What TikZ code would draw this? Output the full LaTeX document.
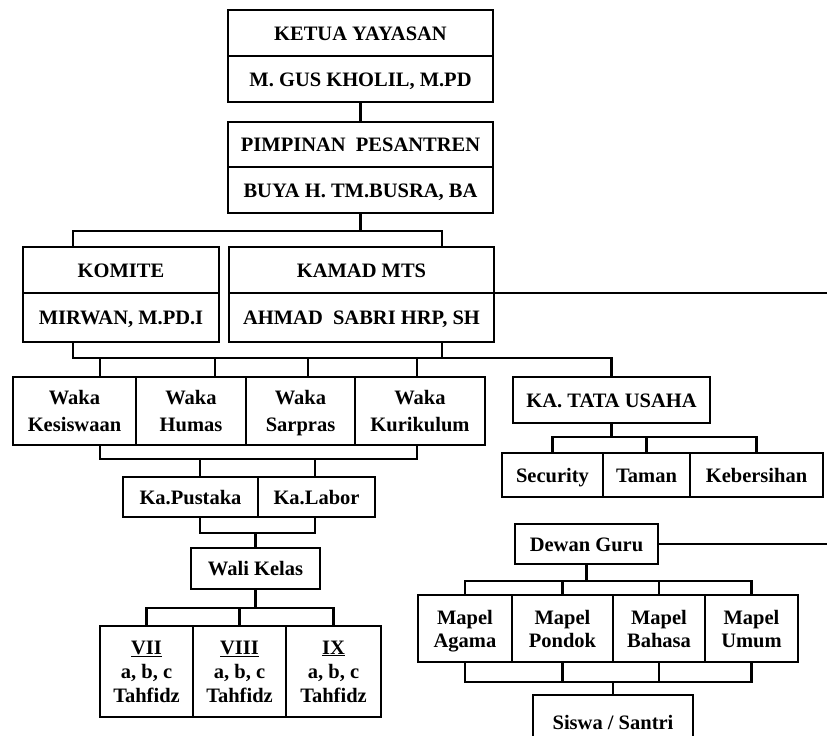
\documentclass[tikz,border=0pt]{standalone}
\usepackage{fontspec}
\setmainfont{Liberation Serif}

\begin{document}
\begin{tikzpicture}[x=1pt,y=-1pt,
	box/.style={draw,line width=2.6pt,outer sep=0pt,inner sep=0pt,align=center,
		font=\bfseries\fontsize{20.5}{25}\selectfont},
	box1/.style={box,text height=14pt,text depth=0pt},
	link/.style={line width=2.6pt}]

	\useasboundingbox (0,0) rectangle (827,736);
	\clip (0,0) rectangle (827,736);
	\coordinate (rim) at (827,0);

	% pimpinan
	\node[box1,minimum width=265pt,minimum height=46pt] (ketua) at (360.5,33) {KETUA YAYASAN};
	\node[box1,minimum width=265pt,minimum height=46pt] (gus) at (360.5,79) {M. GUS KHOLIL, M.PD};
	\node[box1,minimum width=265pt,minimum height=45pt] (pimpinan) at (360.5,144.5) {PIMPINAN\ \ PESANTREN};
	\node[box1,minimum width=265pt,minimum height=46pt] (buya) at (360.5,190) {BUYA H. TM.BUSRA, BA};

	\node[box1,minimum width=196pt,minimum height=46pt] (komite) at (121,270) {KOMITE};
	\node[box1,minimum width=196pt,minimum height=49pt] (mirwan) at (121,317.5) {MIRWAN, M.PD.I};
	\node[box1,minimum width=265pt,minimum height=46pt] (kamad) at (361.5,270) {KAMAD MTS};
	\node[box1,minimum width=265pt,minimum height=49pt] (ahmad) at (361.5,317.5) {AHMAD\ \ SABRI HRP, SH};

	% waka
	\foreach \name/\x/\w/\txt in {wk1/74.5/123/Kesiswaan, wk2/191/110/Humas, wk3/300.5/109/Sarpras, wk4/420/130/Kurikulum}
	{
		\node[box,minimum width=\w pt,minimum height=68pt,font=\bfseries\fontsize{20.5}{26.5}\selectfont] (\name) at (\x,411) {Waka\\\smash{\txt}};
	}

	\node[box1,minimum width=135pt,minimum height=40pt] (pustaka) at (190.5,497) {Ka.Pustaka};
	\node[box1,minimum width=117pt,minimum height=40pt] (labor) at (316.5,497) {Ka.Labor};
	\node[box1,minimum width=129pt,minimum height=41pt] (wali) at (255.5,568.5) {Wali Kelas};

	\foreach \name/\x/\w/\txt in {kls1/146.5/93/VII, kls2/239.5/93/VIII, kls3/333.5/95/IX}
	{
		\node[box,minimum width=\w pt,minimum height=91pt,font=\bfseries\fontsize{20.5}{24}\selectfont] (\name) at (\x,671.5) {\underline{\txt}\\a, b, c\\\smash{Tahfidz}};
	}

	% tata usaha
	\node[box1,minimum width=197pt,minimum height=46pt] (tata) at (611.5,400) {KA. TATA USAHA};
	\node[box1,minimum width=101pt,minimum height=44pt] (sec) at (552.5,475) {Security};
	\node[box1,minimum width=87pt,minimum height=44pt] (taman) at (646.5,475) {Taman};
	\node[box1,minimum width=133pt,minimum height=44pt] (keb) at (756.5,475) {Kebersihan};

	% dewan guru
	\node[box1,minimum width=143pt,minimum height=40pt] (dewan) at (586.5,544) {Dewan Guru};
	\foreach \name/\x/\w/\txt in {mp1/465/94/Agama, mp2/562.5/101/Pondok, mp3/659/92/Bahasa, mp4/751.5/93/Umum}
	{
		\node[box,minimum width=\w pt,minimum height=67pt,font=\bfseries\fontsize{20.5}{23}\selectfont] (\name) at (\x,628.5) {Mapel\\\smash{\txt}};
	}
	\node[box1,minimum width=160pt,minimum height=55pt] (siswa) at (613,722.5) {Siswa / Santri};

	% lines
	\draw[link] (gus) -- (pimpinan);
	\draw[link] (buya.south) -- ++(0,18) coordinate (b1);
	\draw[link] ([xshift=-48pt]komite.north) |- (b1) -| ([xshift=80.5pt]kamad.north);
	\draw[link] (kamad.south east) -- (kamad.south east -| rim);

	\draw[link] ([xshift=-48pt]mirwan.south) -- ++(0,16) coordinate (b2) -| (tata.north);
	\draw[link] ([xshift=80.5pt]ahmad.south) -- ([xshift=80.5pt]ahmad.south |- b2);
	\foreach \name/\dx in {wk1/25.5, wk2/24, wk3/7.5, wk4/-3}
		\draw[link] ([xshift=\dx pt]\name.north) -- ([xshift=\dx pt]\name.north |- b2);

	\draw[link] ([xshift=25.5pt]wk1.south) -- ++(0,14) coordinate (b3) -| ([xshift=-3pt]wk4.south);
	\draw[link] ([xshift=9.5pt]pustaka.north) -- ([xshift=9.5pt]pustaka.north |- b3);
	\draw[link] ([xshift=-1.5pt]labor.north) -- ([xshift=-1.5pt]labor.north |- b3);

	\draw[link] ([xshift=9.5pt]pustaka.south) -- ++(0,16) coordinate (b4) -| ([xshift=-1.5pt]labor.south);
	\draw[link] (wali.north) -- (wali.north |- b4);

	\draw[link] (wali.south) -- ++(0,19) coordinate (b5);
	\draw[link] (kls1.north) |- (b5) -| (kls3.north);
	\draw[link] (kls2.north) -- (kls2.north |- b5);

	\draw[link] (tata.south) -- ++(0,14) coordinate (b6);
	\draw[link] (sec.north) |- (b6) -| (keb.north);
	\draw[link] (taman.north) -- (taman.north |- b6);

	\draw[link] (dewan.east) -- (dewan.east -| rim);
	\draw[link] (dewan.south) -- ++(0,17) coordinate (b7);
	\draw[link] (mp1.north) |- (b7) -| (mp4.north);
	\foreach \name in {mp2,mp3}
		\draw[link] (\name.north) -- (\name.north |- b7);

	\draw[link] (mp1.south) -- ++(0,20) coordinate (b8) -| (mp4.south);
	\foreach \name in {mp2,mp3}
		\draw[link] (\name.south) -- (\name.south |- b8);
	\draw[link] (siswa.north) -- (siswa.north |- b8);

\end{tikzpicture}
\end{document}
